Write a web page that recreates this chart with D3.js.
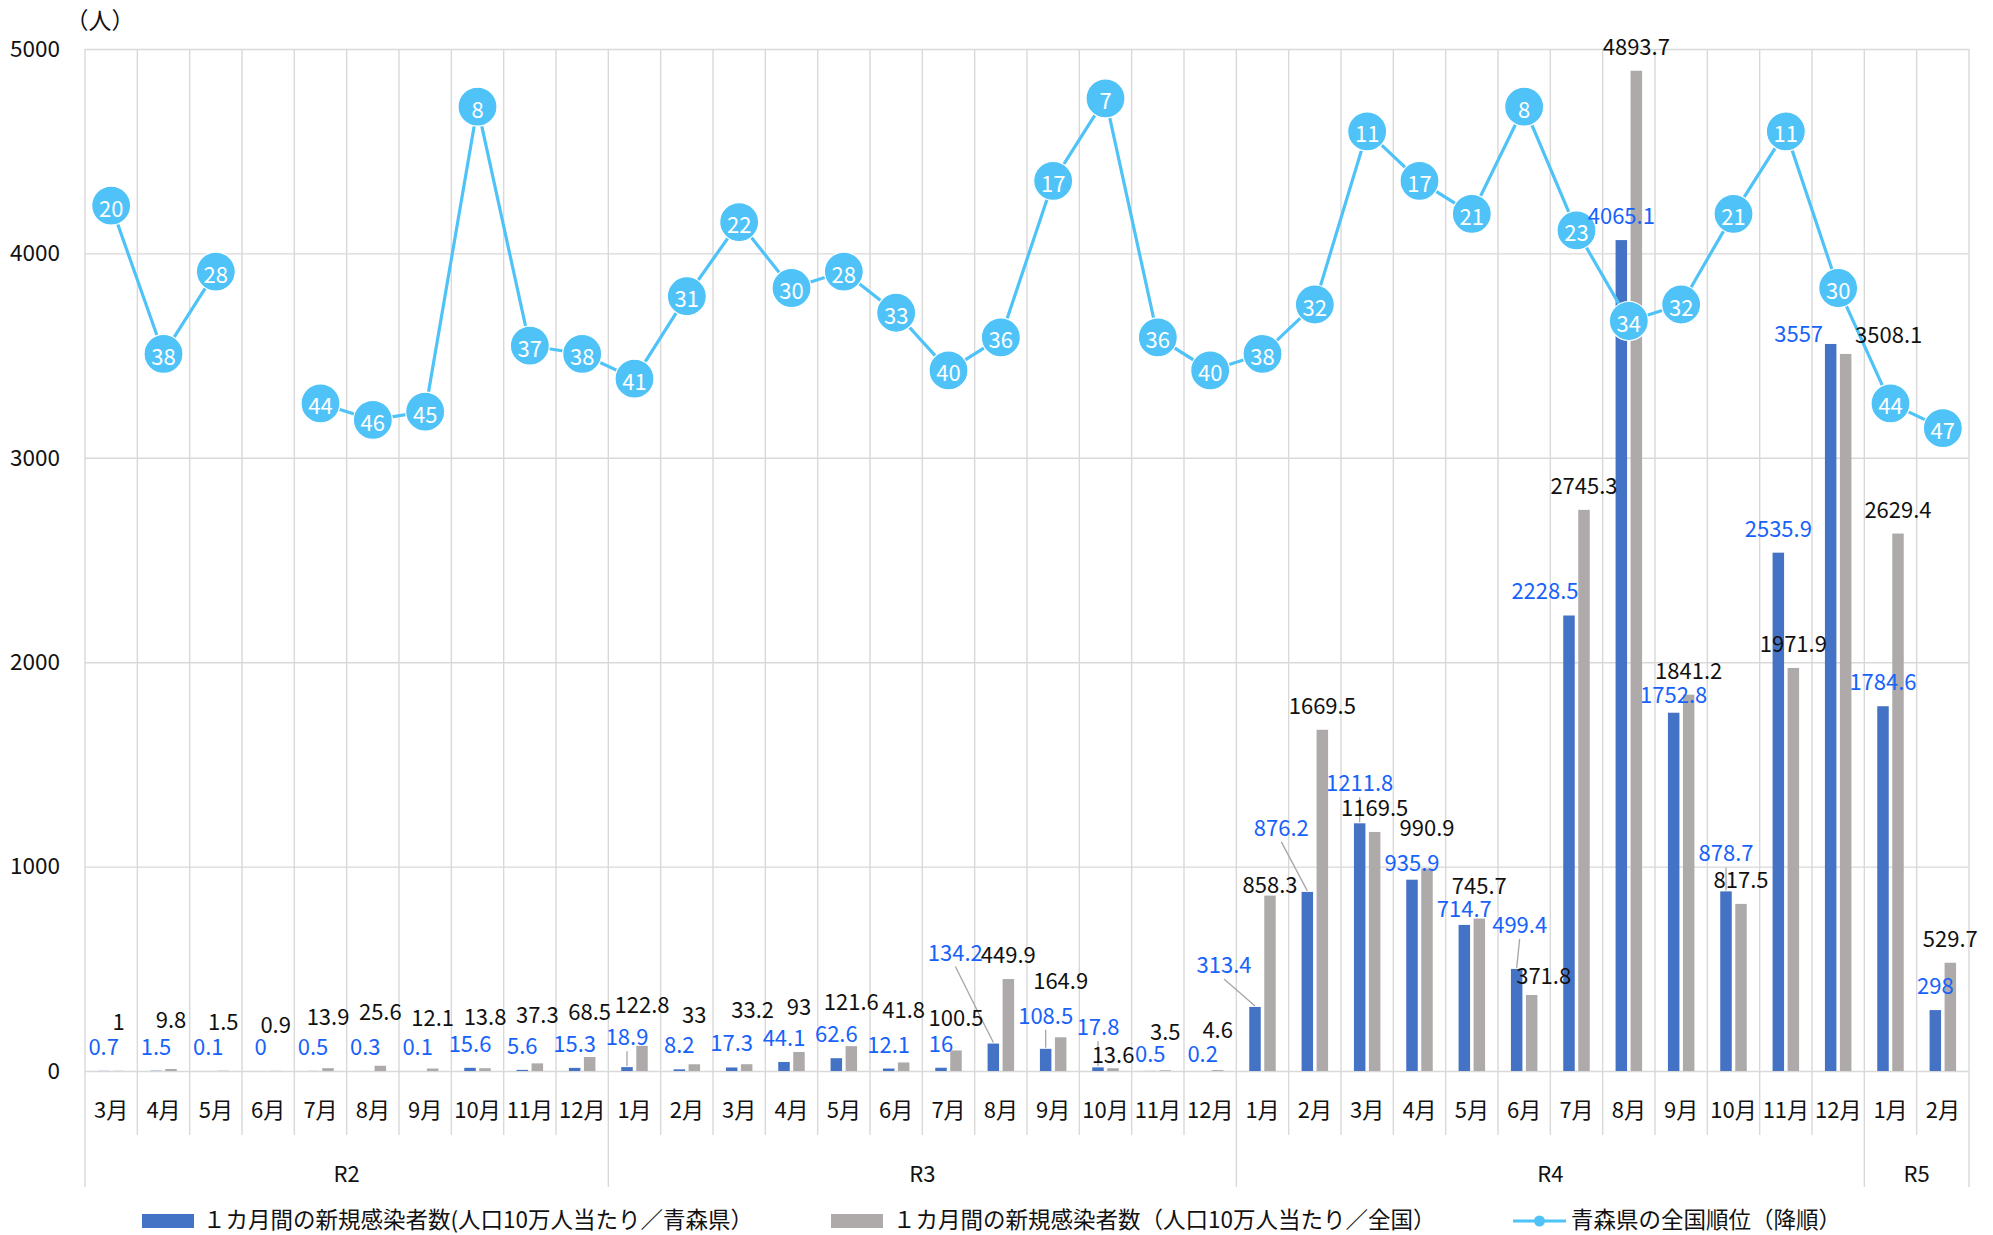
<!DOCTYPE html>
<html>
<head>
<meta charset="utf-8">
<script src="https://cdn.jsdelivr.net/npm/d3@7"></script>
<style>
  body { margin: 0; background: #fff; }
  svg { display: block; }
  text { font-family: "Noto Sans CJK JP", "Noto Sans", sans-serif; }
</style>
</head>
<body>
<script>
// months on the x axis, grouped by year (R2..R5)
const months = [
  '3月','4月','5月','6月','7月','8月','9月','10月','11月','12月',
  '1月','2月','3月','4月','5月','6月','7月','8月','9月','10月','11月','12月',
  '1月','2月','3月','4月','5月','6月','7月','8月','9月','10月','11月','12月',
  '1月','2月'
];
const yearLabels = ['R2', 'R3', 'R4', 'R5'];
const yearSpans = [10, 12, 12, 2];

// new cases per 100k for one month: Aomori / national
const aomori = [
  0.7, 1.5, 0.1, 0, 0.5, 0.3, 0.1, 15.6, 5.6, 15.3,
  18.9, 8.2, 17.3, 44.1, 62.6, 12.1, 16, 134.2, 108.5, 17.8, 0.5, 0.2,
  313.4, 876.2, 1211.8, 935.9, 714.7, 499.4, 2228.5, 4065.1, 1752.8, 878.7, 2535.9, 3557,
  1784.6, 298
];
const national = [
  1, 9.8, 1.5, 0.9, 13.9, 25.6, 12.1, 13.8, 37.3, 68.5,
  122.8, 33, 33.2, 93, 121.6, 41.8, 100.5, 449.9, 164.9, 13.6, 3.5, 4.6,
  858.3, 1669.5, 1169.5, 990.9, 745.7, 371.8, 2745.3, 4893.7, 1841.2, 817.5, 1971.9, 3508.1,
  2629.4, 529.7
];
// Aomori's national rank (descending), no rank in R2 6月
const rank = [
  20, 38, 28, null, 44, 46, 45, 8, 37, 38,
  41, 31, 22, 30, 28, 33, 40, 36, 17, 7, 36, 40,
  38, 32, 11, 17, 21, 8, 23, 34, 32, 21, 11, 30,
  44, 47
];
const yTicks = [0, 1000, 2000, 3000, 4000, 5000];

const legendLabels = [
  '１カ月間の新規感染者数(人口10万人当たり／青森県）',
  '１カ月間の新規感染者数（人口10万人当たり／全国）',
  '青森県の全国順位（降順）'
];

// manual label nudges [dx, dy] (Excel labels were dragged by hand)
const blueNudge = {10:[0,-6], 17:[-38,-67], 18:[0,-9], 19:[0,-16], 20:[0,7], 21:[0,7],
  22:[-31,-18], 23:[-26,-40], 24:[0,-16], 25:[0,7], 26:[0,8], 27:[3,-20], 28:[-24,0],
  30:[0,6], 31:[0,-14], 33:[-32,14]};
const blueLeader = [10, 17, 18, 19, 22, 23, 24, 27, 31];
const grayNudge = {0:[0,-25], 1:[0,-25], 2:[0,-25], 3:[0,-22], 4:[0,-27], 5:[0,-30], 6:[0,-27],
  7:[0,-27], 8:[0,-24], 9:[0,-21], 10:[0,-17], 11:[0,-25], 12:[6,-30], 13:[0,-21], 14:[0,-20],
  15:[0,-28], 16:[0,-8], 18:[0,-32], 19:[0,11], 20:[0,-14], 21:[0,-16], 22:[0,13], 25:[0,-16],
  26:[0,-9], 27:[12,5], 33:[43,5]};

const W = 1993, H = 1235;
const plotL = 85, plotR = 1969, plotT = 49, plotB = 1071;

const svg = d3.select('body').append('svg')
  .attr('width', W)
  .attr('height', H);

const keys = d3.range(months.length);
const x = d3.scaleBand().domain(keys).range([plotL, plotR]).paddingInner(0);
const bw = x.bandwidth();
const y = d3.scaleLinear().domain([0, 5000]).range([plotB, plotT]);
const yRank = d3.scaleLinear().domain([1, 125]).range([plotT, plotB]);

const barW = 11.5, barGap = 3.5;
const blueX = i => x(i) + bw / 2 - barGap / 2 - barW;
const grayX = i => x(i) + bw / 2 + barGap / 2;

// horizontal grid
svg.append('g')
  .attr('transform', `translate(${plotL},0)`)
  .call(d3.axisLeft(y).tickValues(yTicks).tickSize(-(plotR - plotL)).tickFormat(''))
  .call(g => g.select('.domain').remove())
  .selectAll('.tick line')
  .attr('stroke', '#d9d9d9')
  .attr('stroke-width', 1.4);

// vertical grid + category dividers below the axis
const yearStarts = [0];
yearSpans.forEach((s, i) => yearStarts.push(yearStarts[i] + s));
const edges = keys.map(k => x(k)).concat([plotR]);
svg.append('g').selectAll('line')
  .data(edges)
  .join('line')
  .attr('x1', d => d).attr('x2', d => d)
  .attr('y1', plotT)
  .attr('y2', (d, i) => yearStarts.includes(i) ? 1187 : 1135)
  .attr('stroke', '#d9d9d9')
  .attr('stroke-width', 1.4);

// y tick labels
svg.append('g')
  .attr('transform', `translate(${plotL},0)`)
  .call(d3.axisLeft(y).tickValues(yTicks).tickSize(0).tickPadding(25).tickFormat(d3.format('d')))
  .call(g => g.select('.domain').remove())
  .selectAll('text')
  .attr('font-size', 22.5)
  .attr('fill', '#111')
  .style('font-family', '"Noto Sans CJK JP", sans-serif');

svg.append('text')
  .attr('x', 100).attr('y', 19)
  .attr('text-anchor', 'middle')
  .attr('dominant-baseline', 'central')
  .attr('font-size', 23)
  .attr('fill', '#111')
  .text('（人）');

// month labels
svg.append('g')
  .attr('transform', `translate(0,${plotB})`)
  .call(d3.axisBottom(x).tickSize(0).tickPadding(31).tickFormat(i => months[i]))
  .call(g => g.select('.domain').remove())
  .selectAll('text')
  .attr('font-size', 22)
  .attr('fill', '#111')
  .style('font-family', '"Noto Sans CJK JP", sans-serif');

// year labels
svg.append('g').selectAll('text')
  .data(yearLabels)
  .join('text')
  .attr('x', (d, i) => (edges[yearStarts[i]] + edges[yearStarts[i + 1]]) / 2)
  .attr('y', 1172)
  .attr('text-anchor', 'middle')
  .attr('dominant-baseline', 'central')
  .attr('font-size', 22)
  .attr('fill', '#111')
  .text(d => d);

// bars
svg.append('g').selectAll('rect')
  .data(aomori)
  .join('rect')
  .attr('x', (d, i) => blueX(i))
  .attr('y', d => y(d))
  .attr('width', barW)
  .attr('height', d => plotB - y(d))
  .attr('fill', '#4472c4');

svg.append('g').selectAll('rect')
  .data(national)
  .join('rect')
  .attr('x', (d, i) => grayX(i))
  .attr('y', d => y(d))
  .attr('width', barW)
  .attr('height', d => plotB - y(d))
  .attr('fill', '#aeaaaa');

// rank line
const lineColor = '#4fc3f7';
const line = d3.line()
  .defined(d => d != null)
  .x((d, i) => x(i) + bw / 2)
  .y(d => yRank(d));

svg.append('path')
  .datum(rank)
  .attr('fill', 'none')
  .attr('stroke', lineColor)
  .attr('stroke-width', 3.2)
  .attr('d', line);

const pts = rank.map((r, i) => ({ r, i })).filter(d => d.r != null);
svg.append('g').selectAll('circle')
  .data(pts)
  .join('circle')
  .attr('cx', d => x(d.i) + bw / 2)
  .attr('cy', d => yRank(d.r))
  .attr('r', 19.5)
  .attr('fill', lineColor)
  .attr('stroke', '#fff')
  .attr('stroke-width', 1.2);

svg.append('g').selectAll('text')
  .data(pts)
  .join('text')
  .attr('x', d => x(d.i) + bw / 2)
  .attr('y', d => yRank(d.r) + 1)
  .attr('text-anchor', 'middle')
  .attr('dominant-baseline', 'central')
  .attr('font-size', 22)
  .attr('fill', '#fff')
  .text(d => d.r);

// data labels
function labelPos(vals, barX, nudge) {
  return vals.map((v, i) => {
    const n = nudge[i] || [0, 0];
    return {
      v, i,
      bx: barX(i) + barW / 2,
      by: y(v),
      lx: barX(i) + barW / 2 + n[0],
      ly: y(v) - 26 + n[1]
    };
  });
}
const blueLabels = labelPos(aomori, blueX, blueNudge);
const grayLabels = labelPos(national, grayX, grayNudge);

svg.append('g').selectAll('line')
  .data(blueLabels.filter(d => blueLeader.includes(d.i)))
  .join('line')
  .attr('x1', d => d.lx).attr('y1', d => d.ly + 16)
  .attr('x2', d => d.bx).attr('y2', d => d.by - 1)
  .attr('stroke', '#a6a6a6')
  .attr('stroke-width', 1.3);

svg.append('g').selectAll('text')
  .data(grayLabels)
  .join('text')
  .attr('x', d => d.lx).attr('y', d => d.ly)
  .attr('text-anchor', 'middle')
  .attr('dominant-baseline', 'central')
  .attr('font-size', 22)
  .attr('fill', '#111')
  .text(d => d.v);

svg.append('g').selectAll('text')
  .data(blueLabels)
  .join('text')
  .attr('x', d => d.lx).attr('y', d => d.ly)
  .attr('text-anchor', 'middle')
  .attr('dominant-baseline', 'central')
  .attr('font-size', 22)
  .attr('fill', '#1762fa')
  .text(d => d.v);

// legend
const lg = svg.append('g');
const legY = 1221;
lg.append('rect').attr('x', 142).attr('y', legY - 7).attr('width', 52).attr('height', 14).attr('fill', '#4472c4');
lg.append('rect').attr('x', 831).attr('y', legY - 7).attr('width', 52).attr('height', 14).attr('fill', '#aeaaaa');
lg.append('line').attr('x1', 1513).attr('x2', 1566).attr('y1', legY).attr('y2', legY)
  .attr('stroke', lineColor).attr('stroke-width', 3.2);
lg.append('circle').attr('cx', 1539.5).attr('cy', legY).attr('r', 5.5).attr('fill', lineColor);
lg.selectAll('text')
  .data(legendLabels)
  .join('text')
  .attr('x', (d, i) => [203, 893, 1571][i])
  .attr('y', legY - 3)
  .attr('dominant-baseline', 'central')
  .attr('font-size', 22.5)
  .attr('fill', '#111')
  .text(d => d);
</script>
</body>
</html>
